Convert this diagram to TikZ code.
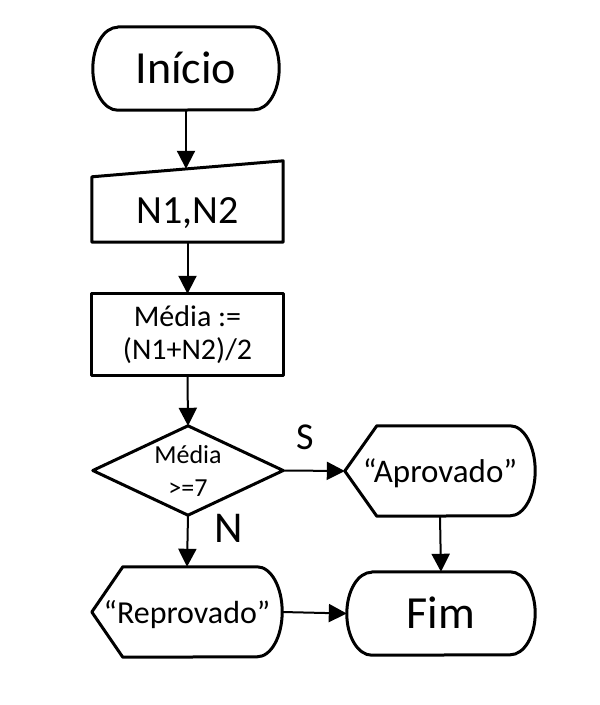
\documentclass[tikz,border=0pt]{standalone}
\usepackage{fontspec}
\setmainfont{Carlito}
\usetikzlibrary{arrows.meta,calc}

\tikzset{
  box/.style={inner sep=0pt, align=center},
  outline/.style={line width=3pt, line join=round},
  flow/.style={-{Triangle[length=18pt,width=18pt]}, line width=2pt},
  tag/.style={inner sep=0pt, text height=#1*0.644pt, text depth=0pt, font=\fontsize{#1}{#1}\selectfont},
}

\begin{document}
\begin{tikzpicture}[x=1pt, y=-1pt]
  \useasboundingbox (0,0) rectangle (600,705);

  % nodes
  \node[box, minimum width=186pt, minimum height=83pt, text height=30pt, text depth=0pt,
    font=\fontsize{46}{50}\selectfont] (ini) at (186,68.5) {Início};
  \node[box, minimum width=191pt, minimum height=62pt, text height=25pt, text depth=0pt,
    font=\fontsize{40}{44}\selectfont] (ent) at (187.5,211) {N1,N2};
  \node[box, minimum width=191pt, minimum height=81pt,
    font=\fontsize{30}{33}\selectfont] (proc) at (187.5,334.5) {Média :=\\(N1+N2)/2};
  \node[box, minimum width=190pt, minimum height=89pt,
    font=\fontsize{26}{33}\selectfont] (dec) at (188,470.5) {Média\\>=7};
  \node[box, minimum width=190pt, minimum height=90pt, text height=22pt, text depth=0pt,
    font=\fontsize{33}{36}\selectfont] (apr) at (440,471) {“Aprovado”};
  \node[box, minimum width=190pt, minimum height=90pt, text height=22pt, text depth=0pt,
    font=\fontsize{32}{36}\selectfont] (rep) at (187,612) {“Reprovado”};
  \node[box, minimum width=188pt, minimum height=83pt, text height=30pt, text depth=0pt,
    font=\fontsize{46}{50}\selectfont] (fim) at (441,613.5) {Fim};
  \coordinate (entTop) at ($(ent.north)+(0,-11)$);

  % outlines
  \draw[outline] ($(ini.north west)+(25,0)$) -- ($(ini.north east)+(-25,0)$)
    arc[start angle=90, end angle=-90, x radius=25pt, y radius=41.5pt]
    -- ($(ini.south west)+(25,0)$)
    arc[start angle=-90, end angle=-270, x radius=25pt, y radius=41.5pt] -- cycle;
  \draw[outline] ($(ent.north west)+(0,-3)$) -- ($(ent.north east)+(0,-19)$)
    -- (ent.south east) -- (ent.south west) -- cycle;
  \draw[outline] (proc.north west) rectangle (proc.south east);
  \draw[outline] (dec.west) -- (dec.north) -- (dec.east) -- (dec.south) -- cycle;
  \draw[outline] (apr.west) -- ($(apr.north west)+(32,0)$) -- ($(apr.north east)+(-25,0)$)
    arc[start angle=90, end angle=-90, x radius=25pt, y radius=45pt]
    -- ($(apr.south west)+(32,0)$) -- cycle;
  \draw[outline] (rep.west) -- ($(rep.north west)+(31,0)$) -- ($(rep.north east)+(-25,0)$)
    arc[start angle=90, end angle=-90, x radius=25pt, y radius=45pt]
    -- ($(rep.south west)+(31,0)$) -- cycle;
  \draw[outline] ($(fim.north west)+(25,0)$) -- ($(fim.north east)+(-25,0)$)
    arc[start angle=90, end angle=-90, x radius=25pt, y radius=41.5pt]
    -- ($(fim.south west)+(25,0)$)
    arc[start angle=-90, end angle=-270, x radius=25pt, y radius=41.5pt] -- cycle;

  % connectors
  \draw[flow] (ini.south) -- (ini.south |- entTop);
  \draw[flow] (ent.south) -- (proc.north);
  \draw[flow] (proc.south) -- (dec.north);
  \draw[flow] (dec.east) -- node[tag=38, pos=0.35, above=20pt] {S} (apr.west);
  \draw[flow] (dec.south) -- node[tag=44, pos=0.25, right=26pt] {N} (rep.north);
  \draw[flow] (apr.south) -- (fim.north);
  \draw[flow] (rep.east) -- (fim.west);
\end{tikzpicture}
\end{document}
